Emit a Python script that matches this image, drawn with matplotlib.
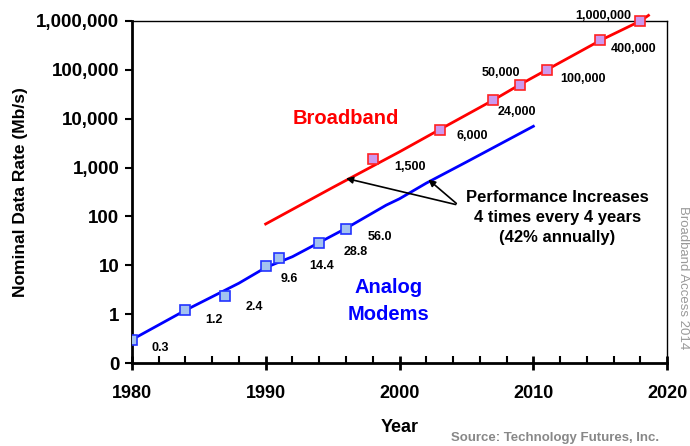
import numpy as np
import matplotlib
matplotlib.use("Agg")
import matplotlib.pyplot as plt

plt.rcParams['font.family'] = ['Liberation Sans', 'DejaVu Sans']
plt.rcParams['font.weight'] = 'bold'

# analog modem markers
modem_years = [1980, 1984, 1987, 1990, 1991, 1994, 1996]
modem_rates = [0.3, 1.2, 2.4, 9.6, 14.4, 28.8, 56.0]
modem_labels = ['0.3', '1.2', '2.4', '9.6', '14.4', '28.8', '56.0']
# analog trend line
modem_line_years = [1980, 1984, 1988, 1990, 1992, 1996, 1999, 2000, 2002, 2005, 2010]
modem_line_rates = [0.3, 1.2, 4.3, 9.0, 15, 57, 170, 230, 480, 1300, 7000]

# broadband markers
bb_years = [1998, 2003, 2007, 2009, 2011, 2015, 2018]
bb_rates = [1500, 6000, 24000, 50000, 100000, 400000, 1000000]
bb_labels = ['1,500', '6,000', '24,000', '50,000', '100,000', '400,000', '1,000,000']
# broadband trend line
bb_line_years = [1990, 1995, 2000, 2003, 2005, 2007, 2009, 2011, 2015, 2018, 2018.6]
bb_line_rates = [70, 390, 2100, 6000, 12000, 24000, 50000, 100000, 400000, 1000000, 1300000]

yticks = [0.1, 1, 10, 100, 1e3, 1e4, 1e5, 1e6]
ytick_labels = ['0', '1', '10', '100', '1,000', '10,000', '100,000', '1,000,000']

fig = plt.figure(figsize=(6.9, 4.46), dpi=100)
ax = fig.add_axes([0.191, 0.186, 0.776, 0.767])

ax.plot(modem_line_years, modem_line_rates, color='#0000ff', lw=2, zorder=2)
ax.plot(modem_years, modem_rates, 's', ms=7, mfc='#a3c2f0', mec='#2233ff', mew=1.2, zorder=3)
ax.plot(bb_line_years, bb_line_rates, color='#ff0000', lw=2, zorder=2, clip_on=False)
ax.plot(bb_years, bb_rates, 's', ms=7, mfc='#cc99ee', mec='#ff2222', mew=1.2, zorder=3, clip_on=False)

# label offsets in pixels
modem_off = [(20, -8), (20, -10), (20, -11), (15, -13), (30, -8), (24, -9), (22, -8)]
for x, y, t, o in zip(modem_years, modem_rates, modem_labels, modem_off):
    ax.annotate(t, (x, y), xytext=o, textcoords='offset pixels', fontsize=9,
                ha='left', va='center', fontweight='bold')
bb_off = [(37, -8), (33, -6), (24, -12), (-19, 12), (36, -9), (33, -9), (-37, 5)]
for x, y, t, o in zip(bb_years, bb_rates, bb_labels, bb_off):
    ax.annotate(t, (x, y), xytext=o, textcoords='offset pixels', fontsize=9,
                ha='center', va='center', fontweight='bold', annotation_clip=False)

ax.set_yscale('log')
ax.set_ylim(0.1, 1e6)
ax.set_xlim(1980, 2020)
ax.set_yticks(yticks)
ax.set_yticklabels(ytick_labels)
ax.yaxis.set_minor_locator(matplotlib.ticker.NullLocator())
ax.set_xticks([1980, 1990, 2000, 2010, 2020])
ax.set_xticks(np.arange(1982, 2020, 2), minor=True)
ax.tick_params(axis='y', which='major', direction='out', length=5, width=1.5, labelsize=13.5, pad=4)
ax.tick_params(axis='x', which='major', direction='inout', length=10, width=2, labelsize=13, pad=11)
ax.tick_params(axis='x', which='minor', direction='in', length=5, width=1.5)
for lab in ax.get_xticklabels() + ax.get_yticklabels():
    lab.set_fontweight('bold')

ax.spines['left'].set_linewidth(2)
ax.spines['bottom'].set_linewidth(2)
ax.spines['top'].set_linewidth(1)
ax.spines['right'].set_linewidth(1)

ax.set_ylabel('Nominal Data Rate (Mb/s)', fontsize=12.5, fontweight='bold', labelpad=6)
ax.set_xlabel('Year', fontsize=13, fontweight='bold', labelpad=12)

ax.text(1996.0, 10000, 'Broadband', color='#ff0000', fontsize=14.5, fontweight='bold',
        ha='center', va='center')
ax.text(1999.2, 3.5, 'Analog', color='#0000ff', fontsize=14.5, fontweight='bold',
        ha='center', va='center')
ax.text(1999.2, 1.0, 'Modems', color='#0000ff', fontsize=14.5, fontweight='bold',
        ha='center', va='center')

ax.text(2011.8, 95, 'Performance Increases\n4 times every 4 years\n(42% annually)',
        fontsize=12, fontweight='bold', ha='center', va='center', linespacing=1.45)
for hx in [1995.8, 2002.0]:
    ax.annotate('', xy=(hx, 620), xytext=(2004.4, 170),
                arrowprops=dict(arrowstyle='-|>', color='black', lw=1.2, mutation_scale=10))

fig.text(0.99, 0.377, 'Broadband Access 2014', rotation=270, color='#999999',
         fontsize=9.5, fontweight='normal', ha='center', va='center')
fig.text(0.805, 0.018, 'Source: Technology Futures, Inc.', color='#888888',
         fontsize=9.5, fontweight='bold', ha='center', va='center')

fig.savefig('out.png', dpi=100)
